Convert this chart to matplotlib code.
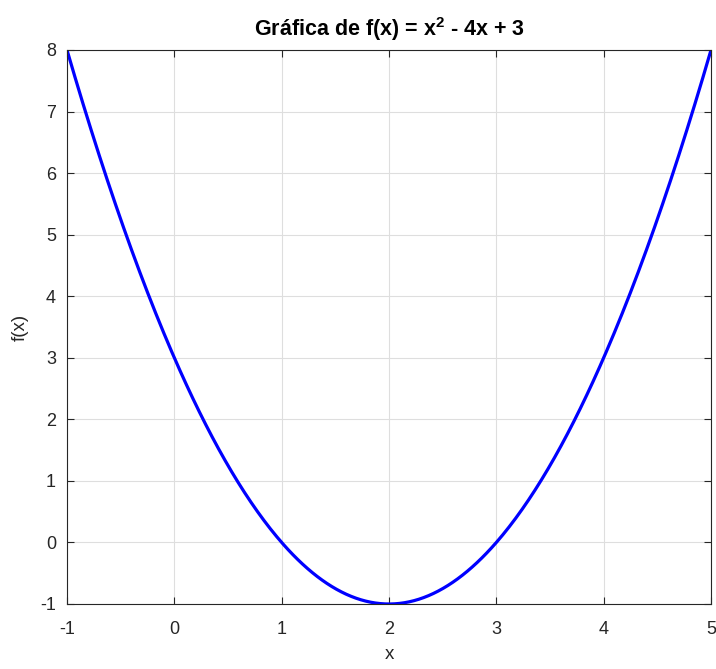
import numpy as np
import matplotlib
matplotlib.use("Agg")
import matplotlib.pyplot as plt

plt.rcParams['font.family'] = ['Liberation Sans', 'DejaVu Sans']
plt.rcParams['mathtext.fontset'] = 'custom'
plt.rcParams['mathtext.rm'] = 'Liberation Sans'
plt.rcParams['mathtext.bf'] = 'Liberation Sans:bold'
plt.rcParams['axes.unicode_minus'] = False

# f(x) = x^2 - 4x + 3 coefficients and plotting range
coeffs = [1, -4, 3]
x_range = [-1, 5]
n_points = 400
x_ticks = [-1, 0, 1, 2, 3, 4, 5]
y_ticks = [-1, 0, 1, 2, 3, 4, 5, 6, 7, 8]

x = np.linspace(x_range[0], x_range[1], n_points)
y = np.polyval(coeffs, x)

fig = plt.figure(figsize=(7.16, 6.69), dpi=100)
ax = fig.add_axes([67/716, 65/669, 644/716, 554/669])

ax.plot(x, y, color='#0000ff', linewidth=2.3, solid_capstyle='round')

ax.set_xlim(x_range)
ax.set_ylim(y_ticks[0], y_ticks[-1])
ax.set_xticks(x_ticks)
ax.set_yticks(y_ticks)
ax.grid(True, color='#dedede', linewidth=0.8)
ax.set_axisbelow(True)
ax.tick_params(direction='in', length=5, width=0.8, top=True, right=True,
               labelsize=13, colors='#262626')
ax.tick_params(axis='x', pad=12)
ax.tick_params(axis='y', pad=8)
for s in ax.spines.values():
    s.set_color('#262626')
    s.set_linewidth(0.8)

ax.set_xlabel('x', fontsize=13.5, color='#262626', labelpad=6)
ax.set_ylabel('f(x)', fontsize=13.5, color='#262626', labelpad=8)
ax.set_title(r'Gráfica de f(x) = x$^\mathbf{2}$ - 4x + 3', fontsize=15.5,
             fontweight='bold', pad=10)

fig.savefig('out.png', dpi=100)
